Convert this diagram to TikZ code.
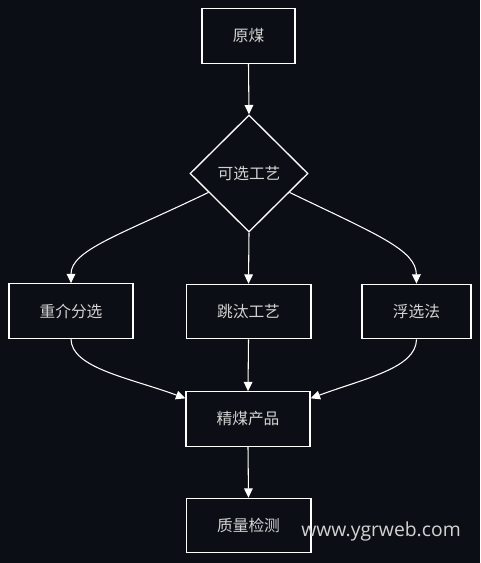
\documentclass[tikz,border=0pt]{standalone}
\usepackage{fontspec}
\newfontfamily\cjk{Noto Sans CJK SC}
\newfontfamily\wmfont{Open Sans}
\usetikzlibrary{shapes.geometric,arrows.meta,calc}
\definecolor{bg}{HTML}{0B0E14}
\definecolor{txt}{HTML}{D2D2D2}
\begin{document}
\begin{tikzpicture}[x=0.75pt,y=-0.75pt,
  box/.style={draw=white,line width=1pt,fill=bg,text=txt,font=\cjk\fontsize{11.8}{14}\selectfont,inner sep=0pt,minimum height=40.8pt},
  dia/.style={diamond,draw=white,line width=1pt,fill=bg,text=txt,font=\cjk\fontsize{11.8}{14}\selectfont,inner sep=0pt,minimum width=88.5pt,minimum height=87.75pt},
  arr/.style={draw=white,line width=0.8pt,-{Triangle[length=7pt,width=6.5pt]}}]
\fill[bg] (0,0) rectangle (480,563);
\useasboundingbox (0,0) rectangle (480,563);
\node[box,minimum width=69.75pt] (a) at (248.5,36) {原煤};
\node[dia] (d) at (249,173.5) {可选工艺};
\node[box,minimum width=93pt] (b1) at (71,311) {重介分选};
\node[box,minimum width=93.5pt] (b2) at (248.5,311.5) {跳汰工艺};
\node[box,minimum width=81.75pt] (b3) at (416.5,311.5) {浮选法};
\node[box,minimum width=93pt] (c) at (248,419) {精煤产品};
\node[box,minimum width=93.5pt] (e) at (248.5,525.5) {质量检测};
\node[text=txt,font=\wmfont\fontsize{14.5}{16}\selectfont,anchor=center] (wm) at (381,531) {www.ygrweb.com};
\draw[arr] (a.south) -- (d.north);
\coordinate (dl) at ($(d.west)!0.32!(d.south)$);
\coordinate (dr) at ($(d.east)!0.32!(d.south)$);
\draw[arr] (dl) .. controls (120,235) and (71,250) .. (b1.north);
\draw[arr] (d.south) -- (b2.north);
\draw[arr] (dr) .. controls (378,235) and (416,250) .. (b3.north);
\draw[arr] (b1.south) .. controls (71,368) and (130,378) .. ($(c.west)+(0,15.5pt)$);
\draw[arr] (b2.south) -- (c.north);
\draw[arr] (b3.south) .. controls (416,368) and (366,378) .. ($(c.east)+(0,15.5pt)$);
\draw[arr] (c.south) -- (e.north);
\end{tikzpicture}
\end{document}
